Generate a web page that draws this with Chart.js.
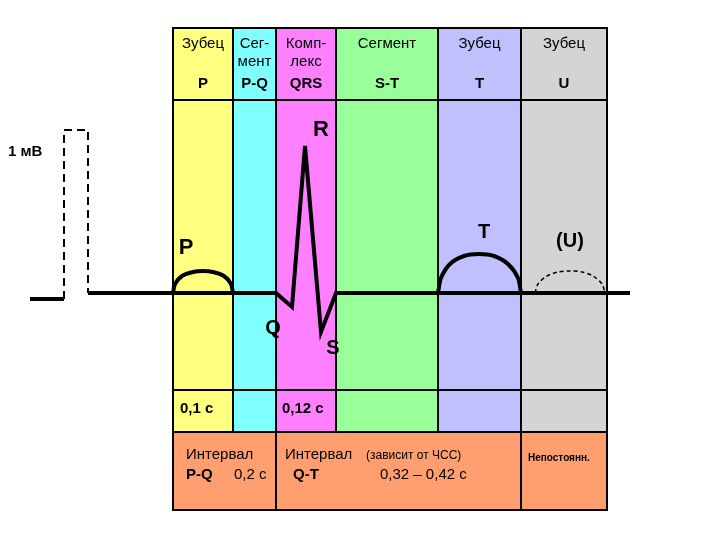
<!DOCTYPE html>
<html>
<head>
<meta charset="utf-8">
<script src="https://cdn.jsdelivr.net/npm/chart.js@4"></script>
<style>
  body { margin: 0; background: #fff; }
  canvas { display: block; }
</style>
</head>
<body>
<canvas id="ecg" width="720" height="540"></canvas>
<script>
// band edges and colours (x in picture units)
const bandEdges = [173, 233, 276, 336, 438, 521, 607];
const bandColors = ['#ffff80', '#80ffff', '#ff80ff', '#99ff99', '#c0c0ff', '#d4d4d4'];
const headTop = ['Зубец', 'Сег-', 'Комп-', 'Сегмент', 'Зубец', 'Зубец'];
const headMid = ['', 'мент', 'лекс', '', '', ''];
const headBot = ['P', 'P-Q', 'QRS', 'S-T', 'T', 'U'];

// ECG trace
const baselineLeft = [{x: 30, y: 299}, {x: 64, y: 299}];
const calibDashed = [{x: 64, y: 299}, {x: 64, y: 130}, {x: 88, y: 130}, {x: 88, y: 293}];
const ecgMain = [
  {x: 88, y: 293}, {x: 173, y: 293}, {x: 233, y: 293}, {x: 276, y: 293},
  {x: 292, y: 307}, {x: 305, y: 146}, {x: 321, y: 332}, {x: 336, y: 293},
  {x: 438, y: 293}, {x: 521, y: 293}, {x: 630, y: 293}
];
const pWave = [{x: 173, y: 293}, {x: 175, y: 284}, {x: 182, y: 276}, {x: 193, y: 272}, {x: 203, y: 271}, {x: 213, y: 272}, {x: 224, y: 276}, {x: 231, y: 284}, {x: 233, y: 293}];
const tWave = [{x: 438, y: 293}, {x: 441, y: 278}, {x: 450, y: 264}, {x: 464, y: 256}, {x: 479, y: 254}, {x: 494, y: 256}, {x: 508, y: 264}, {x: 518, y: 278}, {x: 521, y: 293}];
const uWave = [{x: 535, y: 293}, {x: 538, y: 284}, {x: 547, y: 276}, {x: 558, y: 272}, {x: 570, y: 271}, {x: 582, y: 272}, {x: 593, y: 276}, {x: 602, y: 284}, {x: 605, y: 293}];

const waveLabels = [
  {t: 'P', x: 186, y: 248, s: 22}, {t: 'R', x: 321, y: 130, s: 22},
  {t: 'Q', x: 273, y: 328, s: 20}, {t: 'S', x: 333, y: 348, s: 20},
  {t: 'T', x: 484, y: 232, s: 20}, {t: '(U)', x: 570, y: 241, s: 20}
];

const rowTop = 28, headBottom = 100, midRow = 390, lowRow = 432, tableBottom = 510;

const bandsPlugin = {
  id: 'bands',
  beforeDatasetsDraw(chart) {
    const c = chart.ctx, xs = chart.scales.x, ys = chart.scales.y;
    const X = v => xs.getPixelForValue(v), Y = v => ys.getPixelForValue(v);
    c.save();
    for (let i = 0; i < bandColors.length; i++) {
      c.fillStyle = bandColors[i];
      c.fillRect(X(bandEdges[i]), Y(rowTop), X(bandEdges[i + 1]) - X(bandEdges[i]), Y(lowRow) - Y(rowTop));
    }
    c.fillStyle = '#ff9f70';
    c.fillRect(X(173), Y(lowRow), X(607) - X(173), Y(tableBottom) - Y(lowRow));
    c.strokeStyle = '#000';
    c.lineWidth = 2;
    c.strokeRect(X(173), Y(rowTop), X(607) - X(173), Y(tableBottom) - Y(rowTop));
    c.beginPath();
    bandEdges.slice(1, -1).forEach(e => { c.moveTo(X(e), Y(rowTop)); c.lineTo(X(e), Y(lowRow)); });
    [276, 521].forEach(e => { c.moveTo(X(e), Y(lowRow)); c.lineTo(X(e), Y(tableBottom)); });
    [headBottom, midRow, lowRow].forEach(h => { c.moveTo(X(173), Y(h)); c.lineTo(X(607), Y(h)); });
    c.stroke();
    c.restore();
  },
  afterDatasetsDraw(chart) {
    const c = chart.ctx, xs = chart.scales.x, ys = chart.scales.y;
    const X = v => xs.getPixelForValue(v), Y = v => ys.getPixelForValue(v);
    c.save();
    c.fillStyle = '#000';
    c.textBaseline = 'middle';
    c.textAlign = 'center';
    const f = (s, b) => (b ? 'bold ' : '') + s + 'px "Liberation Sans", Arial, sans-serif';
    for (let i = 0; i < 6; i++) {
      const cx = X((bandEdges[i] + bandEdges[i + 1]) / 2);
      c.font = f(15, false);
      c.fillText(headTop[i], cx, Y(44));
      if (headMid[i]) c.fillText(headMid[i], cx, Y(62));
      c.font = f(15, true);
      c.fillText(headBot[i], cx, Y(84));
    }
    waveLabels.forEach(l => { c.font = f(l.s, true); c.fillText(l.t, X(l.x), Y(l.y)); });
    c.textAlign = 'left';
    c.font = f(15, true);
    c.fillText('1 мВ', X(8), Y(152));
    c.fillText('0,1 с', X(180), Y(409));
    c.fillText('0,12 с', X(282), Y(409));
    c.font = f(15, false);
    c.fillText('Интервал', X(186), Y(455));
    c.fillText('Интервал', X(285), Y(455));
    c.font = f(12, false);
    c.fillText('(зависит от ЧСС)', X(366), Y(456));
    c.font = f(15, true);
    c.fillText('P-Q', X(186), Y(475));
    c.fillText('Q-T', X(293), Y(475));
    c.font = f(15, false);
    c.fillText('0,2 с', X(234), Y(475));
    c.fillText('0,32 – 0,42 с', X(380), Y(475));
    c.font = f(10, true);
    c.fillText('Непостоянн.', X(528), Y(458));
    c.restore();
  }
};

const lineSet = (data, extra) => Object.assign({
  data, showLine: true, borderColor: '#000', borderWidth: 4, pointRadius: 0, tension: 0, fill: false
}, extra);

new Chart(document.getElementById('ecg'), {
  type: 'scatter',
  data: {
    datasets: [
      lineSet(baselineLeft),
      lineSet(calibDashed, {borderWidth: 2, borderDash: [8, 5]}),
      lineSet(ecgMain, {borderJoinStyle: 'miter'}),
      lineSet(pWave, {tension: 0.3}),
      lineSet(tWave, {tension: 0.3}),
      lineSet(uWave, {tension: 0.3, borderWidth: 1.5, borderDash: [4, 3]})
    ]
  },
  options: {
    responsive: false,
    animation: false,
    layout: {padding: 0},
    plugins: {legend: {display: false}, tooltip: {enabled: false}},
    scales: {
      x: {type: 'linear', min: 0, max: 720, display: false},
      y: {type: 'linear', min: 0, max: 540, reverse: true, display: false}
    }
  },
  plugins: [bandsPlugin]
});
</script>
</body>
</html>
